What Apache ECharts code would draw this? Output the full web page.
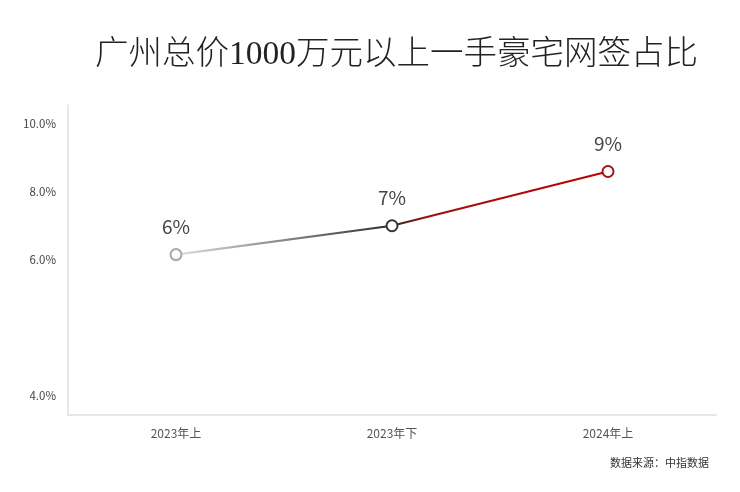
<!DOCTYPE html>
<html>
    <head>
        <meta charset="utf-8">
        <title>广州总价1000万元以上一手豪宅网签占比</title>
        <script src="https://cdn.jsdelivr.net/npm/echarts@6/dist/echarts.min.js"></script>
        <style>
            html, body { margin: 0; padding: 0; background: #fff; }
            #chart1 { width: 740px; height: 492px; }
        </style>
    </head>
    <body>
        <div id="chart1"></div>
        <script type="text/javascript">
            // 数据
            var periods = ['2023年上', '2023年下', '2024年上'];
            var shareValues = [6.15, 7.0, 8.6];
            var pointColors = ['#a8a8a8', '#333333', '#a31515'];
            // 纵轴刻度（原图 4.0% 与 6.0% 之间间距加倍，用位置 2 表示 4.0%）
            var yTickPositions = [2, 6, 8, 10];
            var yTickLabels = ['4.0%', '6.0%', '8.0%', '10.0%'];

            var myChart1 = echarts.init(document.getElementById('chart1'));
            var option = {
                backgroundColor: '#fff',
                title: [{
                    text: '广州总价1000万元以上一手豪宅网签占比',
                    left: 90,
                    top: 33,
                    textStyle: {
                        fontFamily: '"Liberation Serif", "Noto Sans CJK SC"',
                        fontSize: 33.5,
                        fontWeight: 300,
                        color: '#222'
                    }
                }, {
                    text: '数据来源：中指数据',
                    right: 26,
                    top: 452,
                    textStyle: {
                        fontFamily: 'Noto Sans CJK SC',
                        fontSize: 11,
                        fontWeight: 'normal',
                        color: '#333'
                    }
                }],
                grid: {
                    left: 68,
                    right: 24,
                    top: 105,
                    bottom: 77
                },
                xAxis: {
                    type: 'category',
                    data: periods,
                    boundaryGap: true,
                    axisLine: { lineStyle: { color: '#e0e0e0', width: 1.5 } },
                    axisTick: { show: false },
                    axisLabel: {
                        margin: 12,
                        fontFamily: 'Noto Sans CJK SC',
                        fontSize: 12,
                        color: '#555'
                    }
                },
                yAxis: {
                    type: 'value',
                    min: 1.42,
                    max: 10.56,
                    splitLine: { show: false },
                    axisLine: { show: true, lineStyle: { color: '#e0e0e0', width: 1.5 } },
                    axisTick: { show: false },
                    axisLabel: {
                        customValues: yTickPositions,
                        margin: 12,
                        fontFamily: 'Noto Sans CJK SC',
                        fontSize: 11.5,
                        color: '#444',
                        formatter: function (v) {
                            var i = yTickPositions.indexOf(v);
                            return i >= 0 ? yTickLabels[i] : '';
                        }
                    }
                },
                series: [{
                    name: '网签占比',
                    type: 'line',
                    data: shareValues.map(function (v, i) {
                        return {
                            value: v,
                            itemStyle: { color: '#fff', borderColor: pointColors[i], borderWidth: 2 }
                        };
                    }),
                    symbol: 'circle',
                    symbolSize: 11,
                    lineStyle: {
                        width: 2.2,
                        color: {
                            type: 'linear', x: 0, y: 0, x2: 1, y2: 0,
                            colorStops: [
                                { offset: 0, color: '#e2e2e2' },
                                { offset: 0.5, color: '#2e2e2e' },
                                { offset: 0.58, color: '#9e1010' },
                                { offset: 1, color: '#c00000' }
                            ]
                        }
                    },
                    label: {
                        show: true,
                        position: 'top',
                        distance: 12,
                        fontFamily: 'Noto Sans CJK SC',
                        fontSize: 19,
                        color: '#444',
                        formatter: function (p) {
                            return Math.round(p.value) + '%';
                        }
                    },
                    emphasis: { disabled: true }
                }]
            };
            myChart1.setOption(option);
        </script>
    </body>
</html>
